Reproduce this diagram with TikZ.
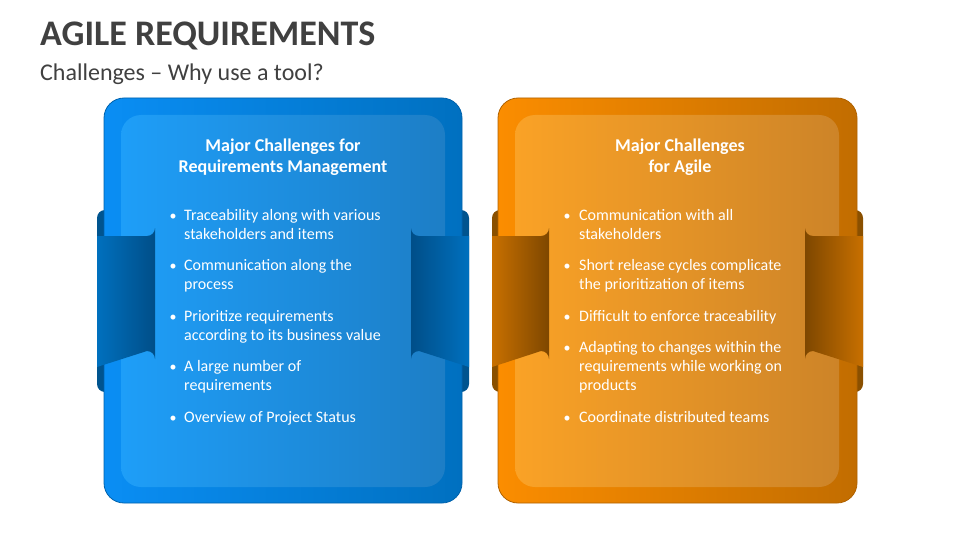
\documentclass[tikz,border=0pt]{standalone}
\usepackage{fontspec}
\setmainfont{Carlito}
\definecolor{ttl}{HTML}{404040}
\definecolor{bOutL}{HTML}{0A8EF4}
\definecolor{bOutR}{HTML}{0070C0}
\definecolor{bInL}{HTML}{1E9EF8}
\definecolor{bInR}{HTML}{1D7EC6}
\definecolor{bBand}{HTML}{00548F}
\definecolor{bTabL}{HTML}{0070BE}
\definecolor{bTabR}{HTML}{004E88}
\definecolor{bEdge}{HTML}{0062AC}
\definecolor{oOutL}{HTML}{FB8D00}
\definecolor{oOutR}{HTML}{C26D00}
\definecolor{oInL}{HTML}{FAA226}
\definecolor{oInR}{HTML}{CD8428}
\definecolor{oBand}{HTML}{8A5000}
\definecolor{oTabL}{HTML}{C87000}
\definecolor{oTabR}{HTML}{7E4700}
\definecolor{oEdge}{HTML}{B06200}
\tikzset{
  head/.style={text=white,font=\bfseries\fontsize{18}{21}\selectfont,align=center,anchor=base,inner sep=0pt},
  itemtxt/.style={text=white,font=\fontsize{16}{19}\selectfont,align=left,anchor=base west,inner sep=0pt},
  dot/.style={text=white,font=\fontsize{14}{19}\selectfont,anchor=base,inner sep=0pt},
}
\begin{document}
\begin{tikzpicture}[x=1pt,y=-1pt]
\useasboundingbox[fill=white] (0,0) rectangle (960,540);
% titles
\node[anchor=base west,inner sep=0pt,text=ttl,font=\bfseries\fontsize{36}{40}\selectfont] (title) at (40,46) {AGILE REQUIREMENTS};
\node[anchor=base west,inner sep=0pt,text=ttl,font=\fontsize{24}{28}\selectfont] (sub) at (40,81) {Challenges – Why use a tool?};

% ===== blue card =====
\fill[bBand,rounded corners=8] (97,210) rectangle (469,392);
\shade[left color=bOutL,right color=bOutR,rounded corners=20,draw=bEdge,line width=0.8] (104,98) rectangle (462,503);
\shade[left color=bInL,right color=bInR,rounded corners=20] (121,115) rectangle (445,487);
\shade[left color=bTabL,right color=bTabR] (97,236) -- (147,236) arc[start angle=90,end angle=0,radius=8] -- (155,359) arc[start angle=0,end angle=-90,radius=8] -- (97,367) -- cycle;
\shade[left color=bTabR,right color=bTabL] (469,236) -- (419,236) arc[start angle=90,end angle=180,radius=8] -- (411,359) arc[start angle=180,end angle=270,radius=8] -- (469,367) -- cycle;

% multi-line nodes are placed at the baseline of their last line
\node[head] (lh) at (283,173) {Major Challenges for\\Requirements Management};
\node[dot] (ld1) at (173,220) {•};
\node[itemtxt] (l1) at (184,239) {Traceability along with various\\stakeholders and items};
\node[dot] (ld2) at (173,270) {•};
\node[itemtxt] (l2) at (184,289) {Communication along the\\process};
\node[dot] (ld3) at (173,321) {•};
\node[itemtxt] (l3) at (184,340) {Prioritize requirements\\according to its business value};
\node[dot] (ld4) at (173,371) {•};
\node[itemtxt] (l4) at (184,390) {A large number of\\requirements};
\node[dot] (ld5) at (173,422) {•};
\node[itemtxt] (l5) at (184,422) {Overview of Project Status};

% ===== orange card =====
\fill[oBand,rounded corners=8] (492,210) rectangle (863,392);
\shade[left color=oOutL,right color=oOutR,rounded corners=20,draw=oEdge,line width=0.8] (498,98) rectangle (857,503);
\shade[left color=oInL,right color=oInR,rounded corners=20] (515,115) rectangle (839,487);
\shade[left color=oTabL,right color=oTabR] (492,236) -- (541,236) arc[start angle=90,end angle=0,radius=8] -- (549,359) arc[start angle=0,end angle=-90,radius=8] -- (492,367) -- cycle;
\shade[left color=oTabR,right color=oTabL] (863,236) -- (813,236) arc[start angle=90,end angle=180,radius=8] -- (805,359) arc[start angle=180,end angle=270,radius=8] -- (863,367) -- cycle;

\node[head] (rh) at (680,173) {Major Challenges\\for Agile};
\node[dot] (rd1) at (567,220) {•};
\node[itemtxt] (r1) at (579,239) {Communication with all\\stakeholders};
\node[dot] (rd2) at (567,270) {•};
\node[itemtxt] (r2) at (579,289) {Short release cycles complicate\\the prioritization of items};
\node[dot] (rd3) at (567,321) {•};
\node[itemtxt] (r3) at (579,321) {Difficult to enforce traceability};
\node[dot] (rd4) at (567,352) {•};
\node[itemtxt] (r4) at (579,390) {Adapting to changes within the\\requirements while working on\\products};
\node[dot] (rd5) at (567,422) {•};
\node[itemtxt] (r5) at (579,422) {Coordinate distributed teams};
\end{tikzpicture}
\end{document}
